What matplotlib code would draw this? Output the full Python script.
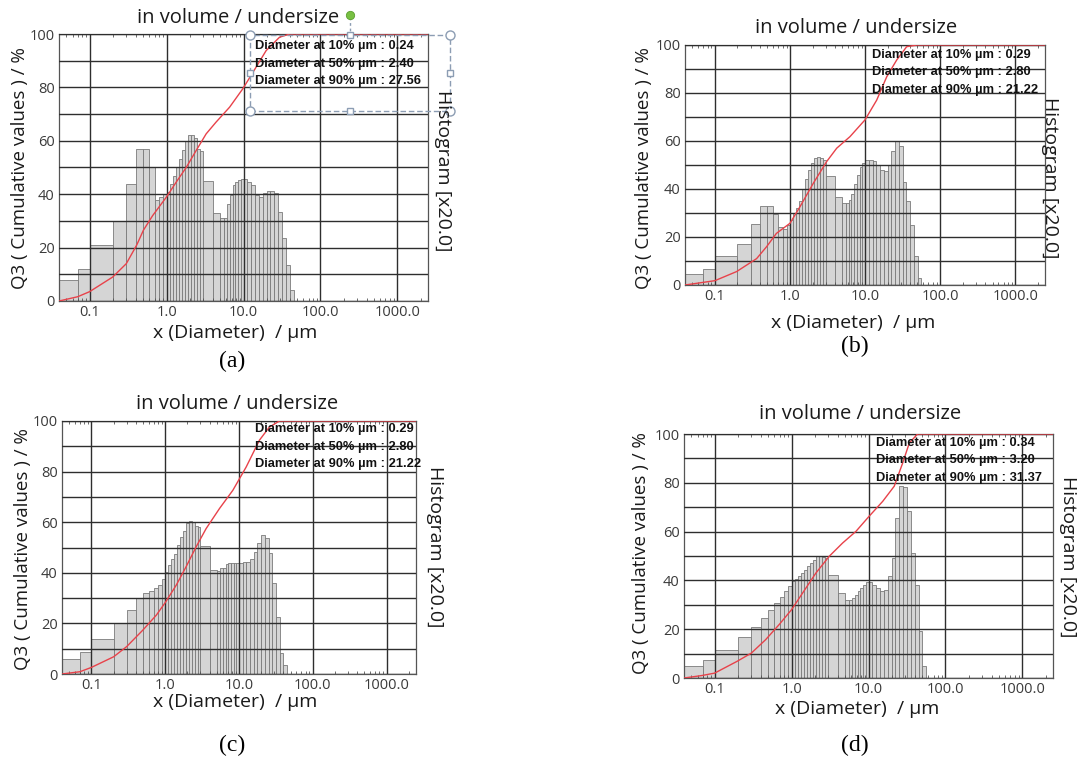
import matplotlib
matplotlib.use("Agg")
import matplotlib.pyplot as plt
import numpy as np
from matplotlib.lines import Line2D
from matplotlib.patches import Rectangle

# bin edges of the size classes (µm)
edges = [0.04, 0.07, 0.1, 0.2, 0.3, 0.4, 0.5, 0.6, 0.7, 0.8, 0.9, 1.0,
         1.1, 1.2, 1.32, 1.45, 1.6, 1.75, 1.92, 2.1, 2.3, 2.52, 2.75, 3.0,
         4.0, 5.0, 5.6, 6.1, 6.6, 7.2, 7.8, 8.5, 9.2, 10.0,
         11.2, 12.6, 14.1, 15.8, 17.8, 20.0, 22.4, 25.1, 28.2, 31.6, 35.5,
         39.8, 44.7, 50.1, 56.2, 63.1]

hist_a = [8, 12, 21, 30, 44, 57, 57, 50, 38, 39, 40,
          41, 44, 47, 50, 53, 56.5, 60, 62, 62, 61, 57, 56,
          45, 33, 31, 31, 36.5, 39.7, 43.4, 44.5, 45.3, 45.6,
          45.6, 44.7, 43.4, 39.7, 38.8, 40.6, 41.3, 41.3, 40.3, 33.5, 23.5, 13.5,
          4, 0, 0, 0]
hist_b = [4.4, 6.7, 12, 17, 25.3, 33, 33, 29.6, 24.3, 23.5, 25,
          27, 30, 32, 35, 40, 44, 48, 51, 53, 53.5, 53, 52,
          45.5, 36.5, 34, 34, 35.5, 38, 42, 46, 49, 51,
          52, 52, 51.5, 50, 48, 47.5, 50, 56, 60, 58, 43, 35,
          25, 12, 3, 0]
hist_c = [5.8, 8.8, 14, 20, 25.3, 30, 32, 33, 34, 35, 37.5,
          40.4, 43, 45.6, 47.6, 51, 54, 56.6, 59.5, 60.4, 60, 58.5, 58,
          50.5, 41, 40.6, 41.7, 42, 43.5, 43.7, 44, 44, 44,
          44, 44.2, 44.3, 45.6, 48.3, 51.6, 55, 53.6, 48, 36, 22.4, 8.2,
          3.6, 0, 0, 0]
hist_d = [4.8, 7.2, 11.6, 16.8, 21, 24.5, 27.7, 30.6, 33.2, 35.5, 37.6,
          39.6, 40.6, 41.7, 43, 44.4, 46, 47.1, 48.5, 49.9, 50, 49.6, 49,
          42.3, 34.8, 31.8, 31.8, 32.8, 34, 35.5, 37, 38.3, 39.2,
          39.2, 38.3, 36.9, 35.5, 36.2, 41.7, 49.2, 65.6, 78.5, 78.3, 68.3, 51.2,
          38.3, 19.1, 5, 0]

# cumulative undersize curves (Q3)
cum_a_x = [0.04, 0.07, 0.1, 0.2, 0.3, 0.41, 0.5, 0.66, 1.0, 1.34, 1.8, 2.43,
           3.27, 4.4, 6.6, 9.8, 13.3, 19.7, 29.4, 40, 2500]
cum_a_y = [0, 1.6, 3.5, 9, 14, 21, 26.5, 32, 39, 44.6, 50, 56.4,
           62.6, 67, 72.6, 79.5, 85.7, 93.8, 98.8, 100, 100]
cum_b_x = [0.04, 0.1, 0.195, 0.36, 0.49, 0.66, 1.0, 1.36, 2.05, 3.08, 4.2,
           6.3, 10, 14.3, 19.5, 26.5, 35.9, 49, 2500]
cum_b_y = [0, 1.8, 5.6, 11, 16, 21.5, 25.7, 32.6, 42.4, 51.4, 57,
           61.8, 68.8, 77, 86.8, 93.8, 99.3, 100, 100]
cum_c_x = [0.04, 0.07, 0.1, 0.2, 0.3, 0.5, 0.76, 1.0, 1.41, 1.92, 2.63, 3.59,
           5.44, 8.25, 12.5, 18.9, 25.8, 35.3, 2500]
cum_c_y = [0, 0.9, 2.6, 6.8, 10.8, 17.4, 23.3, 28.2, 35.1, 42.4, 50.3, 57.5,
           65.4, 72.6, 81.8, 92.4, 97.6, 100, 100]
cum_d_x = [0.04, 0.068, 0.1, 0.195, 0.3, 0.46, 0.69, 1.0, 1.39, 2.07, 3.09,
           4.6, 6.87, 10.2, 15.3, 21.6, 27.8, 33.9, 43.4, 2500]
cum_d_y = [0, 1, 2, 6.8, 10.2, 15.7, 21.9, 28, 34.8, 43, 49.9,
           55.3, 60.1, 66.3, 72.4, 78.6, 88.1, 96.3, 100, 100]

stats_a = ["0.24", "2.40", "27.56"]
stats_b = ["0.29", "2.80", "21.22"]
stats_c = ["0.29", "2.80", "21.22"]
stats_d = ["0.34", "3.20", "31.37"]
percents = ["10%", "50%", "90%"]

xticks = [0.1, 1, 10, 100, 1000]
xticklabels = ["0.1", "1.0", "10.0", "100.0", "1000.0"]

W, H = 1080, 771
fig = plt.figure(figsize=(W / 100, H / 100), dpi=100)
fig.patch.set_facecolor("white")

SANS = ["Open Sans", "DejaVu Sans"]


def fx(px):
    return px / W


def fy(py):
    return 1 - py / H


def panel(box, hist, cx, cy, stats, title_xy, xlab_xy, ylab_xy, histlab_xy,
          tag_xy, tag, stat_xy):
    x0, y0, x1, y1 = box
    ax = fig.add_axes([x0 / W, 1 - y1 / H, (x1 - x0) / W, (y1 - y0) / H])
    widths = np.diff(edges)
    ax.bar(edges[:-1], hist, width=widths, align="edge", color="#d5d5d5",
           edgecolor="#7a7a7a", linewidth=0.6, zorder=1)
    ax.plot(cx, cy, color="#e8424a", lw=1.0, zorder=4)
    ax.set_xscale("log")
    ax.set_xlim(0.04, 2500)
    ax.set_ylim(0, 100)
    ax.set_xticks(xticks)
    ax.set_xticklabels(xticklabels)
    ax.set_yticks(range(0, 101, 20))
    ax.set_yticks(range(0, 101, 10), minor=True)
    ax.grid(True, which="major", color="#2e2e2e", lw=1.0, zorder=3)
    ax.grid(True, which="minor", axis="y", color="#2e2e2e", lw=1.0, zorder=3)
    ax.set_axisbelow(False)
    ax.tick_params(which="major", length=0, labelsize=10.5,
                   labelcolor="#3a3a3a", pad=3)
    ax.tick_params(axis="x", which="minor", direction="in", top=True,
                   bottom=True, length=2.5, color="#555555", labelbottom=False)
    ax.tick_params(axis="y", which="minor", length=0)
    for lab in ax.get_xticklabels() + ax.get_yticklabels():
        lab.set_family(SANS)
    for s in ax.spines.values():
        s.set_color("#555555")
        s.set_linewidth(0.9)

    fig.text(fx(title_xy[0]), fy(title_xy[1]), "in volume / undersize",
             ha="center", va="center", fontsize=14.5, family=SANS,
             color="#1a1a1a")
    fig.text(fx(xlab_xy[0]), fy(xlab_xy[1]), "x (Diameter)  / µm",
             ha="center", va="center", fontsize=14, family=SANS,
             color="#1a1a1a")
    fig.text(fx(ylab_xy[0]), fy(ylab_xy[1]), "Q3 ( Cumulative values ) / %",
             ha="center", va="center", rotation=90, fontsize=13.5,
             family=SANS, color="#1a1a1a")
    fig.text(fx(histlab_xy[0]), fy(histlab_xy[1]), "Histogram [x20.0]",
             ha="center", va="center", rotation=270, fontsize=14,
             family=SANS, color="#1a1a1a")
    fig.text(fx(tag_xy[0]), fy(tag_xy[1]), tag, ha="center", va="center",
             fontsize=17, family=["Liberation Serif", "DejaVu Serif"])
    for i, (p, v) in enumerate(zip(percents, stats)):
        fig.text(fx(stat_xy[0]), fy(stat_xy[1] + 17.5 * i),
                 f"Diameter at {p} µm : {v}", ha="left", va="center",
                 fontsize=9.3, fontweight="bold",
                 family=["Liberation Sans", "DejaVu Sans"], color="#111111")
    return ax


panel((59, 34, 428, 301), hist_a, cum_a_x, cum_a_y, stats_a,
      (238, 18), (235, 333), (20, 168), (443, 171), (232, 361), "(a)",
      (255, 46))
panel((685, 45, 1045, 285), hist_b, cum_b_x, cum_b_y, stats_b,
      (856, 28), (853, 323), (644, 168), (1050, 178), (855, 346), "(b)",
      (872, 55))
panel((62, 421, 416, 674), hist_c, cum_c_x, cum_c_y, stats_c,
      (237, 404), (235, 702), (23, 549), (435, 547), (232, 745), "(c)",
      (255, 429))
panel((684, 434, 1053, 678), hist_d, cum_d_x, cum_d_y, stats_d,
      (860, 414), (857, 709), (641, 553), (1068, 557), (855, 745), "(d)",
      (876, 443))

# text box selection frame around the statistics of the first panel
sel = "#8c9db3"
fig.add_artist(Rectangle((fx(250), fy(111)), fx(450) - fx(250),
                         fy(35) - fy(111), transform=fig.transFigure,
                         fill=False, edgecolor=sel, lw=1.0,
                         linestyle=(0, (4, 2))))
fig.add_artist(Line2D([fx(350), fx(350)], [fy(17), fy(35)],
                      transform=fig.transFigure, color=sel, lw=1.0,
                      linestyle=(0, (2, 2))))
for hx, hy in [(250, 35), (450, 35), (250, 111), (450, 111)]:
    fig.add_artist(Line2D([fx(hx)], [fy(hy)], transform=fig.transFigure,
                          marker="o", markersize=6.5, mfc="white", mec=sel,
                          mew=1.0))
for hx, hy in [(350, 35), (250, 73), (450, 73), (350, 111)]:
    fig.add_artist(Line2D([fx(hx)], [fy(hy)], transform=fig.transFigure,
                          marker="s", markersize=4.5, mfc="white", mec=sel,
                          mew=1.0))
fig.add_artist(Line2D([fx(350)], [fy(15)], transform=fig.transFigure,
                      marker="o", markersize=6, mfc="#78c043", mec="#5a9e2f",
                      mew=0.6))

fig.savefig("out.png", dpi=100, facecolor="white")
